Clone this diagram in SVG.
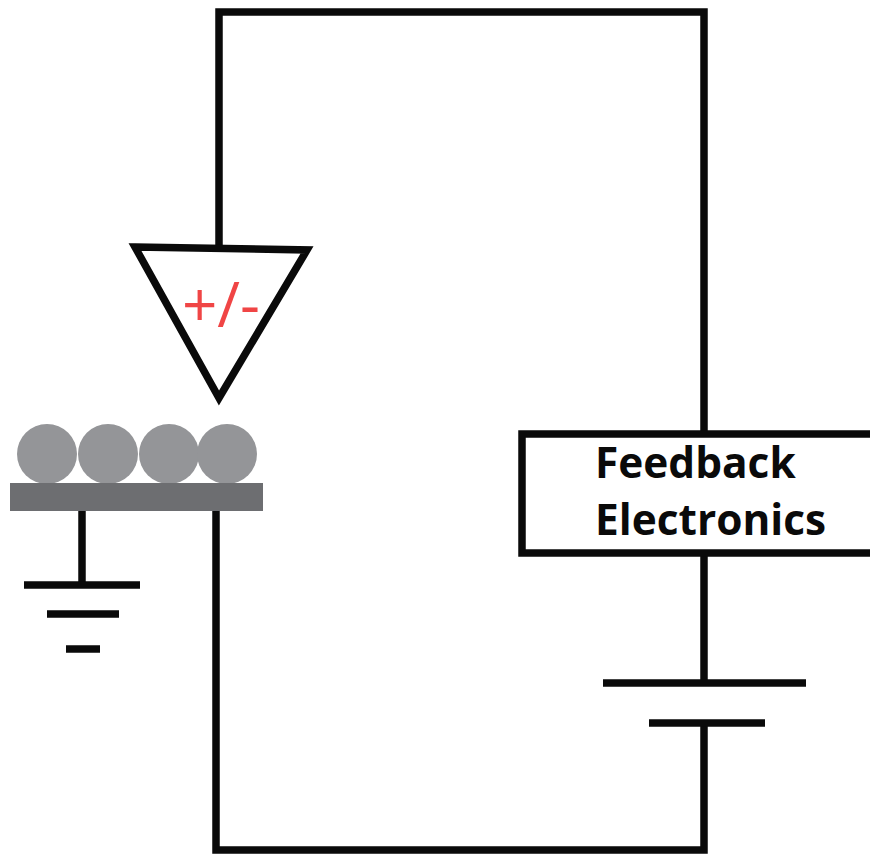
<svg xmlns="http://www.w3.org/2000/svg" width="870" height="854" viewBox="0 0 870 854">
<style>
.w{fill:none;stroke:#0a0a0a;stroke-width:7.5}
.b{fill:#949598}
.t{font-family:"Open Sans","Noto Sans",sans-serif;font-weight:700;font-size:42.4px;fill:#0a0a0a}
</style>
<rect width="870" height="854" fill="#fff"/>
<g id="connectors">
<path class="w" d="M219 246V12H704V433"/>
<path class="w" d="M704 553V683"/>
<path class="w" d="M704 723V850H216V510"/>
<path class="w" d="M82 510V585"/>
</g>
<g id="probe">
<polygon points="135,247 307,250 219,398" fill="#fff" stroke="#0a0a0a" stroke-width="7.5"/>
<text x="221" y="327" text-anchor="middle" style="font-family:'Open Sans','Noto Sans',sans-serif;font-weight:500;font-size:62px;fill:#f04545">+/-</text>
</g>
<g id="sample">
<circle class="b" cx="47" cy="454" r="30"/>
<circle class="b" cx="108" cy="454" r="30"/>
<circle class="b" cx="169" cy="454" r="30"/>
<circle class="b" cx="227" cy="454" r="30"/>
<rect x="10" y="483" width="253" height="28" fill="#6d6e71"/>
</g>
<g id="ground">
<path class="w" d="M24 585H140M47 614H119M66 649H100"/>
</g>
<g id="feedback">
<rect x="522" y="434" width="352" height="119" fill="#fff" stroke="#0a0a0a" stroke-width="7.5"/>
<text class="t" x="595" y="478">Feedback</text>
<text class="t" x="595" y="535">Electronics</text>
</g>
<g id="battery">
<path class="w" d="M603 683H806M649 723H765"/>
</g>
</svg>
